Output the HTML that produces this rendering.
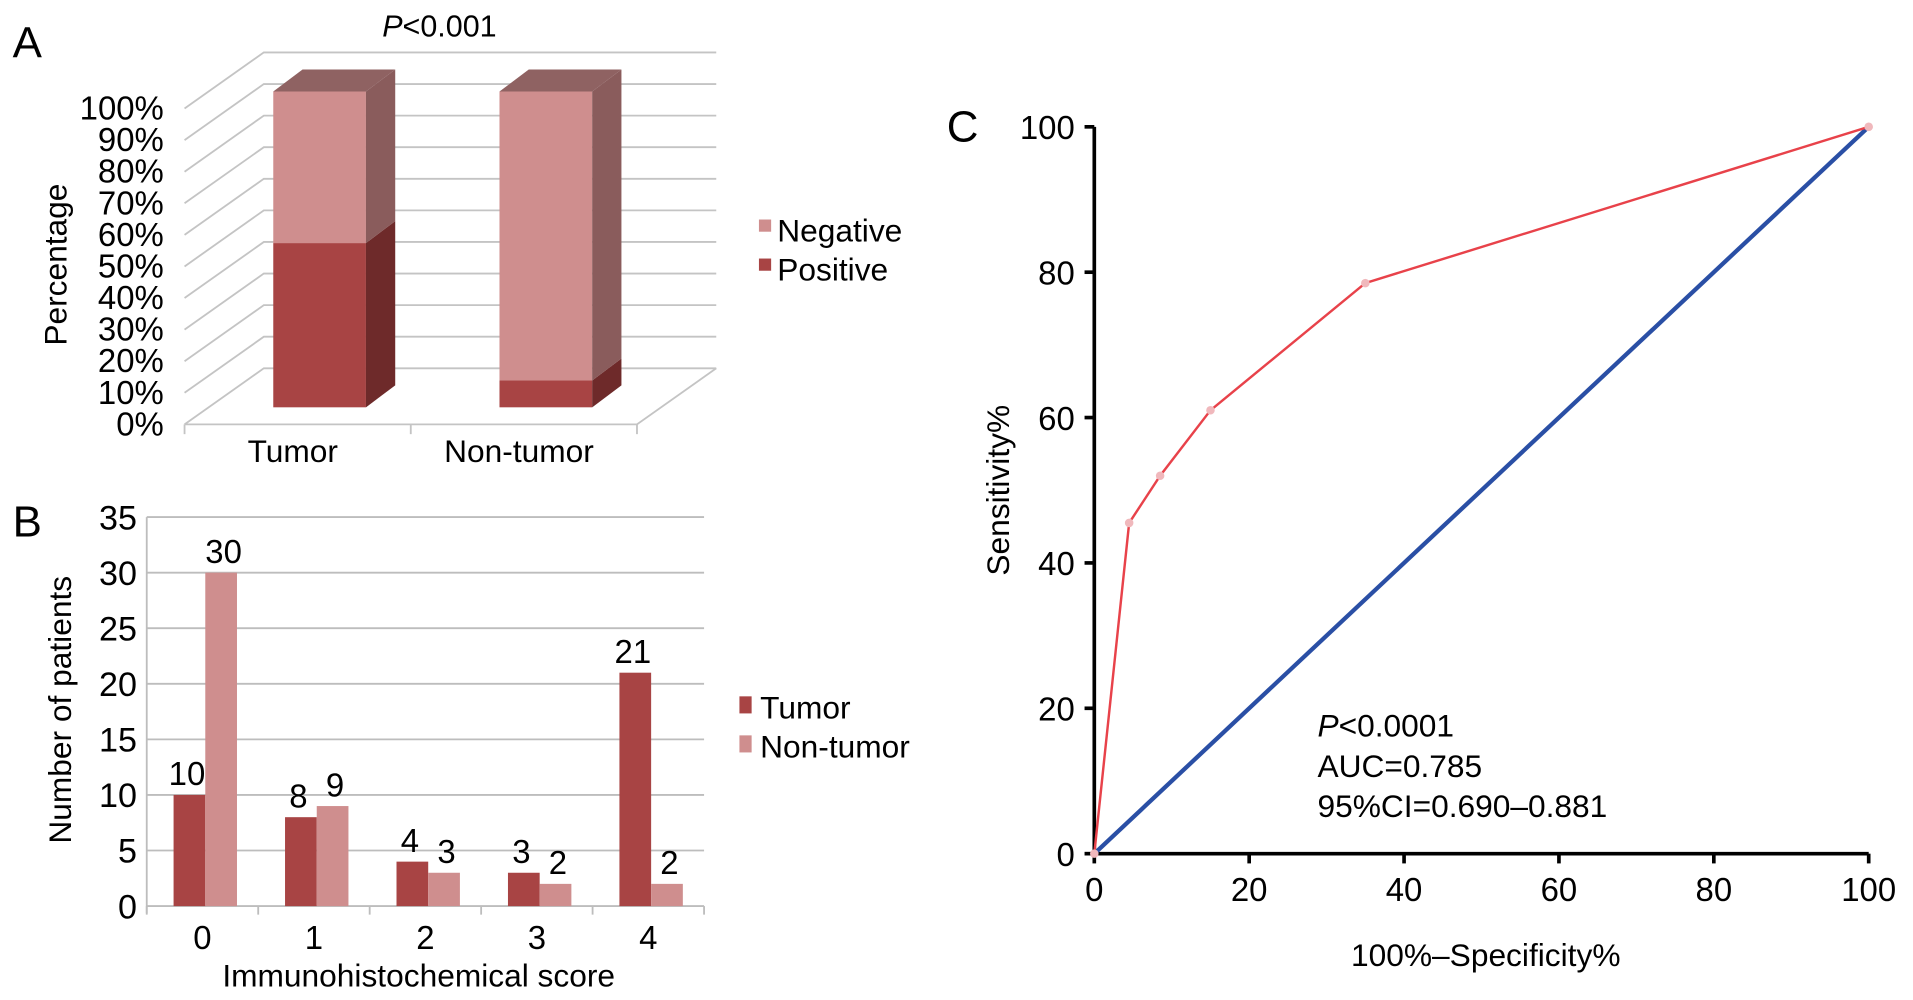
<!DOCTYPE html>
<html><head><meta charset="utf-8"><style>
html,body{margin:0;padding:0;background:#fff;}
svg{display:block;font-family:"Liberation Sans",sans-serif;}
</style></head><body>
<svg id="fig" width="1913" height="1000" viewBox="0 0 1568 820" xmlns="http://www.w3.org/2000/svg">
<g id="pa"></g>
<g id="pb"></g>
<g id="pc"></g>
</svg>
<script>
// Panel A data
const aCategories = ["Tumor", "Non-tumor"];
const aPositive = [52, 8.5];
const aNegative = [48, 91.5];
const aTicks = ["0%","10%","20%","30%","40%","50%","60%","70%","80%","90%","100%"];
// Panel B data
const bCategories = ["0","1","2","3","4"];
const bTumor = [10, 8, 4, 3, 21];
const bNonTumor = [30, 9, 3, 2, 2];
const bTicks = [0,5,10,15,20,25,30,35];
// Panel C data
const cFpr = [0, 4.5, 8.5, 15, 35, 100];
const cTpr = [0, 45.5, 52, 61, 78.5, 100];
const cTicks = [0,20,40,60,80,100];

const NS = "http://www.w3.org/2000/svg";
function mk(parent, tag, attrs, text) {
  const e = document.createElementNS(NS, tag);
  for (const k in attrs) e.setAttribute(k, attrs[k]);
  if (text !== undefined) e.textContent = text;
  parent.appendChild(e);
  return e;
}
const FS = 25;

// ---------- Panel A ----------
(function(){
  const g = document.getElementById('pa');
  const x0 = 151, x1 = 522, y0 = 348, y100 = 89, dx = 65, dy = -46;
  const ya = v => y0 - (v/100)*(y0 - y100);
  let t = mk(g,'text',{x:10,y:47,'font-size':36},'A');
   
  t = mk(g,'text',{x:360,y:30,'font-size':FS,'text-anchor':'middle'});
   
  mk(t,'tspan',{'font-style':'italic'},'P'); mk(t,'tspan',{},'<0.001');
  for (let i = 0; i < aTicks.length; i++) {
    const v = i*10, y = ya(v);
    const l = mk(g,'polyline',{points:`${x0},${y} ${x0+dx},${y+dy} ${x1+dx},${y+dy}`,fill:'none',stroke:'#c4c4c4','stroke-width':1.5});
     
    const tl = mk(g,'text',{x:134,y:y+9,'font-size':27,'text-anchor':'end'},aTicks[i]);
     
  }
  const fl = mk(g,'polyline',{points:`${x0},${y0} ${x1},${y0} ${x1+dx},${y0+dy}`,fill:'none',stroke:'#c4c4c4','stroke-width':1.5});
   
  mk(g,'line',{x1:x0,y1:y0,x2:x0,y2:y0+8,stroke:'#c4c4c4','stroke-width':1.5});
  mk(g,'line',{x1:(x0+x1)/2,y1:y0,x2:(x0+x1)/2,y2:y0+8,stroke:'#c4c4c4','stroke-width':1.5});
  mk(g,'line',{x1:x1,y1:y0,x2:x1,y2:y0+8,stroke:'#c4c4c4','stroke-width':1.5});
  const bw = 76, bdx = 24, bdy = -18, off = -14;
  const yb = v => ya(v) + off;
  const cw = (x1-x0)/aCategories.length;
  for (let i = 0; i < aCategories.length; i++) {
    const bx = x0 + cw*i + (cw - bw)/2 + 18;
    const segs = [[0,aPositive[i],'#a84444','#6e2a2a','#7a3333','positive'],
                  [aPositive[i],aPositive[i]+aNegative[i],'#cf8e8e','#8a5c5c','#8f6060','negative']];
    segs.forEach(s => {
      const ylo = yb(s[0]), yhi = yb(s[1]);
      const f = mk(g,'rect',{x:bx,y:yhi,width:bw,height:ylo-yhi,fill:s[2]});
       
      mk(g,'polygon',{points:`${bx+bw},${ylo} ${bx+bw+bdx},${ylo+bdy} ${bx+bw+bdx},${yhi+bdy} ${bx+bw},${yhi}`,fill:s[3]});
    });
    const ytop = yb(aPositive[i]+aNegative[i]);
    mk(g,'polygon',{points:`${bx},${ytop} ${bx+bdx},${ytop+bdy} ${bx+bw+bdx},${ytop+bdy} ${bx+bw},${ytop}`,fill:'#8f6262'});
    const cl = mk(g,'text',{x:x0+cw*(i+0.5)-4,y:379,'font-size':26,'text-anchor':'middle'},aCategories[i]);
     
  }
  t = mk(g,'text',{x:0,y:0,'font-size':26,'text-anchor':'middle',transform:'translate(54,217) rotate(-90)'},'Percentage');
   
  [['Negative','#cf8e8e',189],['Positive','#a84444',221]].forEach(l => {
    const s = mk(g,'rect',{x:622,y:l[2]-9,width:10,height:10,fill:l[1]});
     
    const lt = mk(g,'text',{x:637,y:l[2]+9,'font-size':26},l[0]);
     
  });
})();

// ---------- Panel B ----------
(function(){
  const g = document.getElementById('pb');
  const x0 = 120, x1 = 577, y0 = 743, ymaxPix = 424, ymax = 35;
  const yb = v => y0 - v/ymax*(y0 - ymaxPix);
  let t = mk(g,'text',{x:10,y:440,'font-size':36},'B');
   
  bTicks.forEach(v => {
    const l = mk(g,'line',{x1:x0,y1:yb(v),x2:x1,y2:yb(v),stroke:'#bdbdbd','stroke-width':1.5});
     
    const tl = mk(g,'text',{x:112,y:yb(v)+10,'font-size':28,'text-anchor':'end'},String(v));
     
  });
  mk(g,'line',{x1:x0,y1:ymaxPix,x2:x0,y2:y0+6,stroke:'#bdbdbd','stroke-width':1.5});
  const cw = (x1-x0)/bCategories.length, bw = 26;
  for (let i = 0; i <= bCategories.length; i++) mk(g,'line',{x1:x0+cw*i,y1:y0,x2:x0+cw*i,y2:y0+7,stroke:'#bdbdbd','stroke-width':1.5});
  bCategories.forEach((c,i) => {
    const bx = x0 + cw*i + 22;
    const r1 = mk(g,'rect',{x:bx,y:yb(bTumor[i]),width:bw,height:y0-yb(bTumor[i]),fill:'#a84444'});
     
    const r2 = mk(g,'rect',{x:bx+bw,y:yb(bNonTumor[i]),width:bw,height:y0-yb(bNonTumor[i]),fill:'#cf8e8e'});
     
    const v1 = mk(g,'text',{x:bx+bw/2-2,y:yb(bTumor[i])-8,'font-size':27,'text-anchor':'middle'},String(bTumor[i]));
     
    const v2 = mk(g,'text',{x:bx+bw*1.5+2,y:yb(bNonTumor[i])-8,'font-size':27,'text-anchor':'middle'},String(bNonTumor[i]));
     
    const xl = mk(g,'text',{x:x0+cw*(i+0.5),y:778,'font-size':27,'text-anchor':'middle'},c);
     
  });
  t = mk(g,'text',{x:343,y:809,'font-size':26,'text-anchor':'middle'},'Immunohistochemical score');
   
  t = mk(g,'text',{x:0,y:0,'font-size':26,'text-anchor':'middle',transform:'translate(58,582) rotate(-90)'},'Number of patients');
   
  [['Tumor','#a84444',580],['Non-tumor','#cf8e8e',612]].forEach(l => {
    const s = mk(g,'rect',{x:606,y:l[2]-9,width:10,height:14,fill:l[1]});
     
    const lt = mk(g,'text',{x:623,y:l[2]+9,'font-size':26},l[0]);
     
  });
})();

// ---------- Panel C ----------
(function(){
  const g = document.getElementById('pc');
  const X0 = 897, X1 = 1532, Y0 = 700, Y1 = 104;
  const xc = v => X0 + v/100*(X1-X0);
  const yc = v => Y0 - v/100*(Y0-Y1);
  let t = mk(g,'text',{x:776,y:116,'font-size':36},'C');
   
  const ax = mk(g,'polyline',{points:`${X0},${Y1} ${X0},${Y0} ${X1},${Y0}`,fill:'none',stroke:'#000','stroke-width':3});
   
  cTicks.forEach(v => {
    mk(g,'line',{x1:X0-8,y1:yc(v),x2:X0,y2:yc(v),stroke:'#000','stroke-width':3});
    mk(g,'line',{x1:xc(v),y1:Y0,x2:xc(v),y2:Y0+8,stroke:'#000','stroke-width':3});
    const yl = mk(g,'text',{x:881,y:yc(v)+10,'font-size':27,'text-anchor':'end'},String(v));
     
    const xl = mk(g,'text',{x:xc(v),y:739,'font-size':27,'text-anchor':'middle'},String(v));
     
  });
  const ref = mk(g,'line',{x1:xc(0),y1:yc(0),x2:xc(100),y2:yc(100),stroke:'#2a4fa5','stroke-width':3.5});
   
  const pts = cFpr.map((v,i) => xc(v)+','+yc(cTpr[i])).join(' ');
  const roc = mk(g,'polyline',{points:pts,fill:'none',stroke:'#e8424a','stroke-width':2});
   
  cFpr.forEach((v,i) => {
    const p = mk(g,'circle',{cx:xc(v),cy:yc(cTpr[i]),r:3.5,fill:'#f0b8bc'});
     
  });
  t = mk(g,'text',{x:1080,y:604,'font-size':26});
   
  mk(t,'tspan',{'font-style':'italic'},'P'); mk(t,'tspan',{},'<0.0001');
  t = mk(g,'text',{x:1080,y:637,'font-size':26},'AUC=0.785');
   
  t = mk(g,'text',{x:1080,y:670,'font-size':26},'95%CI=0.690\u20130.881');
   
  t = mk(g,'text',{x:1218,y:792,'font-size':26,'text-anchor':'middle'},'100%\u2013Specificity%');
   
  t = mk(g,'text',{x:0,y:0,'font-size':26,'text-anchor':'middle',transform:'translate(827,402) rotate(-90)'},'Sensitivity%');
   
})();
</script>
</body></html>
